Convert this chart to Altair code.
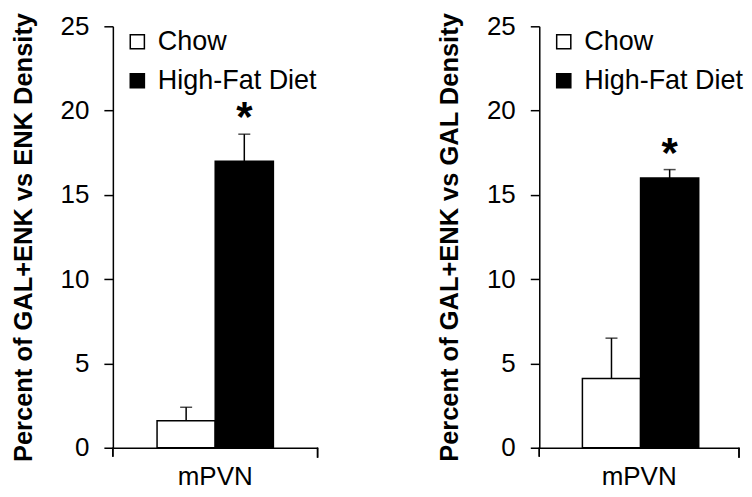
import altair as alt
import pandas as pd

diets = ["Chow", "High-Fat Diet"]
region = ["mPVN", "mPVN"]
left_values = [1.6, 17.0]
left_errors = [0.8, 1.6]
right_values = [4.1, 16.0]
right_errors = [2.4, 0.5]
stars = ["", "*"]
y_ticks = [0, 5, 10, 15, 20, 25]
left_title = "Percent of GAL+ENK vs ENK Density"
right_title = "Percent of GAL+ENK vs GAL Density"

FONT = "Liberation Sans"
H = 422


def panel(values, errors, title, width):
    df = pd.DataFrame({
        "region": region,
        "diet": diets,
        "value": values,
        "upper": [v + e for v, e in zip(values, errors)],
        "star": stars,
    })
    base = alt.Chart(df)
    xenc = alt.X("region:N", title=None,
                 scale=alt.Scale(paddingOuter=0.38, paddingInner=0),
                 axis=alt.Axis(ticks=False, labelAngle=0, labelFontSize=26,
                               labelFont=FONT, labelColor="black",
                               labelPadding=16, domainColor="black",
                               domainWidth=1.5))
    xoff = alt.XOffset("diet:N", sort=diets, scale=alt.Scale(paddingInner=0, paddingOuter=0))
    yscale = alt.Scale(domain=[0, 25], nice=False)
    bars = base.mark_bar(stroke="black", strokeWidth=1.5).encode(
        x=xenc, xOffset=xoff,
        y=alt.Y("value:Q", scale=yscale, title=title,
                axis=alt.Axis(values=y_ticks, grid=False, tickSize=9,
                              tickColor="black", tickWidth=1.5,
                              domainColor="black", domainWidth=1.5,
                              labelFontSize=26, labelFont=FONT,
                              labelColor="black", labelPadding=15,
                              titleFont=FONT, titleFontSize=25.5,
                              titleFontWeight="bold", titleColor="black",
                              titlePadding=24)),
        color=alt.Color("diet:N", sort=diets,
                        scale=alt.Scale(domain=diets, range=["white", "black"]),
                        legend=alt.Legend(title=None, orient="none",
                                          legendX=11, legendY=2,
                                          symbolType="square", symbolSize=200,
                                          symbolStrokeColor="black",
                                          symbolStrokeWidth=1.5,
                                          labelFontSize=27, labelFont=FONT,
                                          labelColor="black", labelOffset=7,
                                          rowPadding=11)),
    )
    err = base.mark_rule(color="black", strokeWidth=1.5).encode(
        x=alt.X("region:N"), xOffset=xoff,
        y=alt.Y("value:Q", scale=yscale), y2="upper:Q",
    )
    cap = base.mark_tick(color="black", thickness=1.5, size=12).encode(
        x=alt.X("region:N"), xOffset=xoff,
        y=alt.Y("upper:Q", scale=yscale),
    )
    star = base.mark_text(fontSize=42, fontWeight="bold", font=FONT,
                          color="black", baseline="alphabetic", dy=-3).encode(
        x=alt.X("region:N"), xOffset=xoff,
        y=alt.Y("upper:Q", scale=yscale), text="star:N",
    )
    end_left = alt.Chart(df).mark_rule(color="black", strokeWidth=1.5).encode(
        x=alt.value(0), y=alt.value(H), y2=alt.value(H + 9),
    )
    end_right = alt.Chart(df).mark_rule(color="black", strokeWidth=1.5).encode(
        x=alt.value(width), y=alt.value(H), y2=alt.value(H + 10),
    )
    return alt.layer(bars, err, cap, star, end_left, end_right).properties(
        width=width, height=H)


left = panel(left_values, left_errors, left_title, 205)
right = panel(right_values, right_errors, right_title, 200)

chart = alt.hconcat(left, right, spacing=119).resolve_legend(
    color="independent").configure_view(stroke=None).properties(
    padding={"left": 3, "top": 4, "right": 0, "bottom": 0},
    background="white")

chart.save("out.html", embed_options={"renderer": "svg", "actions": False})
